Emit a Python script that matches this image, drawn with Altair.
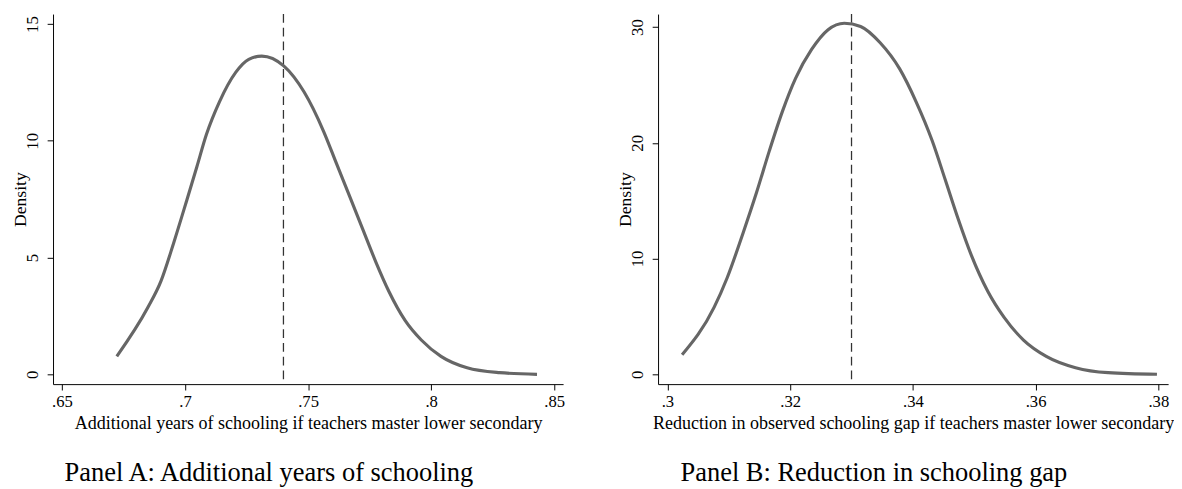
import altair as alt
import pandas as pd

# Panel A data
a_x = [0.6723, 0.6849, 0.6902, 0.6955, 0.7008, 0.7048, 0.7087, 0.7140, 0.7206, 0.7259, 0.7312,
       0.7401, 0.7484, 0.7563, 0.7616, 0.7669, 0.7722, 0.7775, 0.7828, 0.7894, 0.7960, 0.8040,
       0.8146, 0.8278, 0.8430]
a_d = [0.77, 2.86, 3.98, 5.66, 7.48, 8.88, 10.27, 11.67, 12.93, 13.49, 13.63,
       13.21, 12.09, 10.41, 9.01, 7.62, 6.22, 4.82, 3.56, 2.31, 1.47, 0.77,
       0.28, 0.07, 0.0]
a_ref = [0.74]
a_ticks = [0.65, 0.7, 0.75, 0.8, 0.85]
a_yticks = [0, 5, 10, 15]

# Panel B data
b_x = [0.30239, 0.30760, 0.30972, 0.31237, 0.31449, 0.31662, 0.31874, 0.32086, 0.32352, 0.32618,
       0.32882, 0.33148, 0.33467, 0.33785, 0.34051, 0.34315, 0.34529, 0.34740, 0.34952, 0.35218,
       0.35484, 0.35803, 0.36174, 0.36651, 0.37182, 0.37978]
b_d = [1.69, 5.78, 8.32, 12.28, 15.66, 19.33, 22.72, 25.55, 28.09, 29.78,
       30.34, 30.06, 28.65, 26.39, 23.57, 20.18, 16.79, 13.40, 10.30, 7.20,
       4.94, 2.96, 1.55, 0.57, 0.14, 0.0]
b_ref = [0.33]
b_ticks = [0.3, 0.32, 0.34, 0.36, 0.38]
b_yticks = [0, 10, 20, 30]

FONT = "Liberation Serif"
lab_expr = "replace(format(datum.value, '.2~f'), '0.', '.')"


def panel(xs, ds, ref, ticks, yticks, xdom, ydom, xtitle, caption):
    df = pd.DataFrame({"x": xs, "d": ds})
    rdf = pd.DataFrame({"x": ref})
    xscale = alt.Scale(domain=xdom, nice=False, zero=False)
    yscale = alt.Scale(domain=ydom, nice=False, zero=False)
    line = alt.Chart(df).mark_line(color="#666666", strokeWidth=3.2, interpolate="monotone").encode(
        x=alt.X("x:Q", scale=xscale,
                axis=alt.Axis(values=ticks, labelExpr=lab_expr, title=xtitle, labelPadding=4,
                              titlePadding=4, titleFontSize=18.4)),
        y=alt.Y("d:Q", scale=yscale,
                axis=alt.Axis(values=yticks, title="Density", labelAngle=270, labelPadding=6,
                              minExtent=22, maxExtent=22, titlePadding=2)),
    )
    rule = alt.Chart(rdf).mark_rule(color="#333333", strokeWidth=1.3, strokeDash=[9, 5]).encode(
        x=alt.X("x:Q", scale=xscale)
    )
    return alt.layer(rule, line).properties(
        width=521, height=378,
        title=alt.TitleParams(caption, orient="bottom", font=FONT, fontSize=27,
                              fontWeight="normal", color="black", dx=-40, offset=30),
    )


left = panel(a_x, a_d, a_ref, a_ticks, a_yticks, [0.6464, 0.8536], [-0.42, 15.43],
             "Additional years of schooling if teachers master lower secondary",
             "Panel A: Additional years of schooling")
right = panel(b_x, b_d, b_ref, b_ticks, b_yticks, [0.29847, 0.3816], [-0.85, 31.13],
              "Reduction in observed schooling gap if teachers master lower secondary",
              "Panel B: Reduction in schooling gap")

chart = alt.hconcat(left, right, spacing=53).configure(
    padding={"left": 4, "top": 0, "right": 0, "bottom": 0}, background="white"
).configure_view(
    stroke=None
).configure_axis(
    grid=False, domainColor="black", domainWidth=1, tickColor="black", tickSize=6,
    labelFont=FONT, labelFontSize=17, labelColor="black",
    titleFont=FONT, titleFontSize=18, titleFontWeight="normal", titleColor="black",
)

chart.save("out.html", embed_options={"renderer": "svg", "actions": False})
